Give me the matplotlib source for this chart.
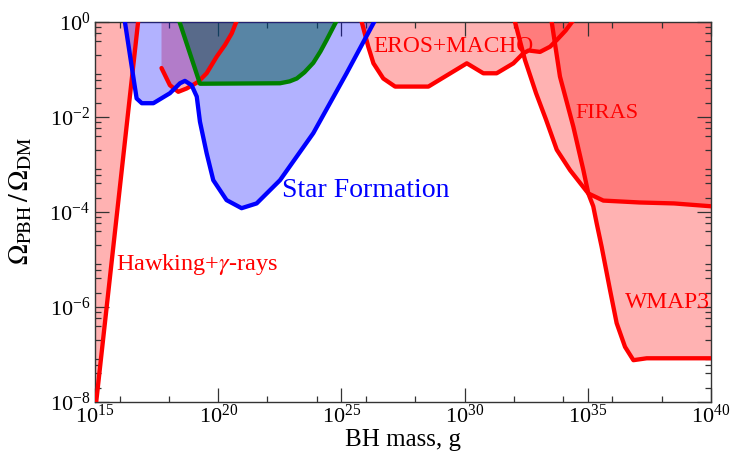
import matplotlib
matplotlib.use("Agg")
import matplotlib.pyplot as plt
import numpy as np
from matplotlib.ticker import FixedLocator, NullFormatter

plt.rcParams["font.family"] = "serif"
plt.rcParams["font.serif"] = ["Liberation Serif", "DejaVu Serif"]
plt.rcParams["mathtext.fontset"] = "stix"

# log10(M / g) and log10(Omega_PBH / Omega_DM)
hawking_logm = [14.99, 16.76]
hawking_logf = [-8.28, 0.05]

femto_logm = [17.70, 18.04, 18.38, 18.72, 19.19, 19.53, 19.94, 20.28, 20.55, 20.77]
femto_logf = [-0.97, -1.33, -1.47, -1.40, -1.26, -1.08, -0.73, -0.48, -0.24, 0.05]

eros_logm = [25.80, 26.09, 26.30, 26.70, 27.18, 28.53, 30.09, 30.76, 31.30, 31.98,
             32.38, 32.60, 33.06, 33.47, 33.74, 34.10, 34.43]
eros_logf = [0.05, -0.52, -0.87, -1.19, -1.36, -1.36, -0.87, -1.08, -1.08, -0.87,
             -0.66, -0.60, -0.63, -0.52, -0.38, -0.18, 0.05]

firas_logm = [32.02, 32.45, 32.90, 33.30, 33.74, 34.28, 35.02, 35.63, 37.10, 38.50, 40.00]
firas_logf = [0.05, -0.80, -1.50, -2.05, -2.69, -3.12, -3.61, -3.76, -3.80, -3.82, -3.88]

wmap_logm = [33.52, 33.87, 34.41, 34.82, 35.02, 35.22, 35.36, 35.56, 35.90, 36.17,
             36.51, 36.85, 37.39, 39.82, 40.00]
wmap_logf = [0.05, -1.15, -2.20, -3.12, -3.61, -3.88, -4.24, -4.73, -5.64, -6.34,
             -6.84, -7.12, -7.08, -7.08, -7.08]

green_logm = [18.40, 19.26, 22.51, 22.90, 23.19, 23.50, 23.86, 24.15, 24.40, 24.83]
green_logf = [0.05, -1.30, -1.29, -1.25, -1.19, -1.06, -0.86, -0.62, -0.38, 0.05]

star_logm = [16.20, 16.45, 16.69, 16.90, 17.37, 18.04, 18.45, 18.65, 18.92, 19.13,
             19.26, 19.53, 19.80, 20.34, 20.95, 21.56, 22.51, 23.86, 25.21, 26.38]
star_logf = [0.05, -0.80, -1.61, -1.71, -1.71, -1.50, -1.29, -1.24, -1.33, -1.57,
             -2.10, -2.76, -3.33, -3.75, -3.92, -3.82, -3.33, -2.34, -1.08, 0.05]

# label text, anchor (log10 M, log10 f) of the left baseline, colour, size
labels = [
    ("EROS+MACHO", 26.28, -0.63, "red", 16.8),
    ("FIRAS", 34.48, -2.02, "red", 16),
    ("WMAP3", 36.51, -6.02, "red", 17),
    ("Star Formation", 22.59, -3.68, "blue", 20),
    (r"Hawking+$\gamma$-rays", 15.85, -5.22, "red", 17.5),
]


def region(ax, logm, logf, color, alpha, zorder):
    m = 10.0 ** np.asarray(logm)
    f = 10.0 ** np.asarray(logf)
    xs = np.concatenate([m, [m[-1], m[0]]])
    ys = np.concatenate([f, [10.0, 10.0]])
    ax.fill(xs, ys, color=color, alpha=alpha, lw=0, zorder=zorder)


def edge(ax, logm, logf, color, zorder):
    ax.plot(10.0 ** np.asarray(logm), 10.0 ** np.asarray(logf), color=color,
            lw=3.1, solid_joinstyle="round", solid_capstyle="round", zorder=zorder)


fig = plt.figure(figsize=(7.34, 4.57), dpi=100)
ax = fig.add_axes([0.1294, 0.1204, 0.8393, 0.8315])
ax.set_xscale("log")
ax.set_yscale("log")

reds = [(hawking_logm, hawking_logf), (femto_logm, femto_logf), (eros_logm, eros_logf),
        (firas_logm, firas_logf), (wmap_logm, wmap_logf)]
for lm, lf in reds:
    region(ax, lm, lf, "red", 0.3, 1)
region(ax, green_logm, green_logf, "green", 0.5, 2)
region(ax, star_logm, star_logf, "blue", 0.3, 3)

for lm, lf in reds:
    edge(ax, lm, lf, "red", 4)
edge(ax, green_logm, green_logf, "green", 5)
edge(ax, star_logm, star_logf, "blue", 6)

for text, lx, ly, col, size in labels:
    ax.text(10.0 ** lx, 10.0 ** ly, text, color=col, fontsize=size,
            ha="left", va="baseline", zorder=7)

ax.set_xlim(1e15, 1e40)
ax.set_ylim(1e-8, 1)

ax.xaxis.set_major_locator(FixedLocator([10.0 ** k for k in range(15, 41, 5)]))
ax.xaxis.set_minor_locator(FixedLocator([10.0 ** k for k in range(16, 40, 2) if k % 5]))
ax.yaxis.set_major_locator(FixedLocator([10.0 ** k for k in range(-8, 1, 2)]))
ax.yaxis.set_minor_locator(FixedLocator([s * 10.0 ** k for k in range(-9, 0) for s in (2, 4, 6, 8)]))
ax.xaxis.set_minor_formatter(NullFormatter())
ax.yaxis.set_minor_formatter(NullFormatter())

ax.tick_params(which="both", direction="in", top=True, right=True, color="#333333",
               width=0.9, labelsize=16)
ax.tick_params(which="major", length=10)
ax.tick_params(which="minor", length=4.5)
ax.tick_params(axis="x", which="major", pad=2)
ax.tick_params(axis="y", which="major", pad=3.5)
for sp in ax.spines.values():
    sp.set_color("#333333")
    sp.set_linewidth(1.0)

ax.set_xlabel("BH mass, g", fontsize=18, labelpad=1)
ax.set_ylabel(r"$\Omega_{\rm PBH}\,/\,\Omega_{\rm DM}$", fontsize=20)
ax.yaxis.set_label_coords(-0.098, 0.53)

fig.savefig("out.png", dpi=100)
